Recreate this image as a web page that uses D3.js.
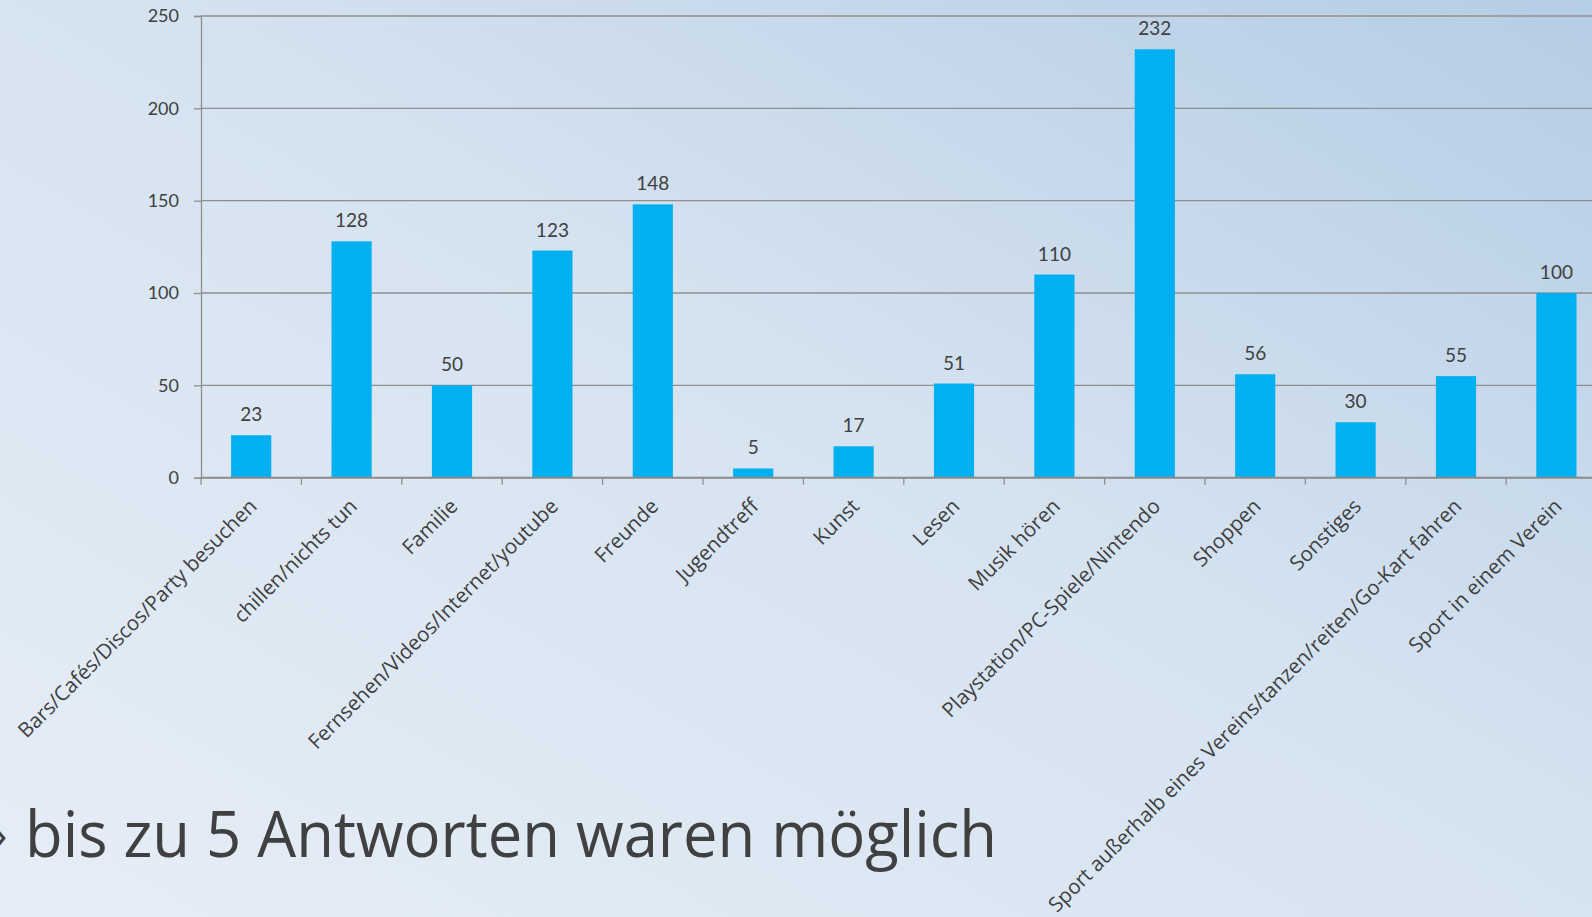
<!DOCTYPE html>
<html>
<head>
	<meta charset="utf-8">
	<title>Freizeit</title>
	<script src="https://d3js.org/d3.v7.min.js"></script>
	<style>
		html, body {
			margin: 0;
			height: 100%;
			overflow: hidden;
		}
		text {
			fill: #404040;
		}
	</style>
</head>
<body>
	<svg id="svg"></svg>
	<script>
		const categories = [
			"Bars/Cafés/Discos/Party besuchen",
			"chillen/nichts tun",
			"Familie",
			"Fernsehen/Videos/Internet/youtube",
			"Freunde",
			"Jugendtreff",
			"Kunst",
			"Lesen",
			"Musik hören",
			"Playstation/PC-Spiele/Nintendo",
			"Shoppen",
			"Sonstiges",
			"Sport außerhalb eines Vereins/tanzen/reiten/Go-Kart fahren",
			"Sport in einem Verein"
		];
		const values = [23, 128, 50, 123, 148, 5, 17, 51, 110, 232, 56, 30, 55, 100];
		const yTicks = [0, 50, 100, 150, 200, 250];
		const footnote = "bis zu 5 Antworten waren möglich";

		const width = 1592;
		const height = 917;
		const plot = { left: 201, top: 16, bottom: 477.7, step: 100.4 };

		const svg = d3.select("#svg")
		.attr("width", width)
		.attr("height", height);

		// background
		const defs = svg.append("defs");
		const grad = defs.append("linearGradient")
		.attr("id", "bg")
		.attr("x1", "100%").attr("y1", "0%")
		.attr("x2", "0%").attr("y2", "100%");
		grad.append("stop").attr("offset", "0%").attr("stop-color", "#b5cde5");
		grad.append("stop").attr("offset", "45%").attr("stop-color", "#d5e2f0");
		grad.append("stop").attr("offset", "100%").attr("stop-color", "#e6eef7");
		svg.append("rect")
		.attr("width", width)
		.attr("height", height)
		.attr("fill", "url(#bg)");

		const x = d3.scaleBand()
		.domain(categories)
		.range([plot.left, plot.left + plot.step * categories.length])
		.paddingInner(0.6)
		.paddingOuter(0.3);

		const y = d3.scaleLinear()
		.domain([0, 250])
		.range([plot.bottom, plot.top]);

		// gridlines
		svg.append("g")
		.selectAll("line")
		.data(yTicks.slice(1))
		.enter()
		.append("line")
		.attr("x1", plot.left)
		.attr("x2", width)
		.attr("y1", d => y(d))
		.attr("y2", d => y(d))
		.attr("stroke", "#8f8f8f")
		.attr("stroke-width", 1.3);

		// y axis
		const yAxis = svg.append("g")
		.attr("transform", `translate(${plot.left},0)`)
		.call(d3.axisLeft(y).tickValues(yTicks).tickSize(7).tickPadding(15));
		yAxis.select(".domain").attr("stroke", "#8f8f8f").attr("stroke-width", 1.3);
		yAxis.selectAll(".tick line").attr("stroke", "#8f8f8f").attr("stroke-width", 1.3);
		yAxis.selectAll(".tick text")
		.attr("font-family", "Lato, 'Open Sans', sans-serif")
		.attr("font-size", 18)
		.attr("fill", "#404040");

		// bars
		svg.append("g")
		.selectAll("rect")
		.data(values)
		.enter()
		.append("rect")
		.attr("x", (d, i) => x(categories[i]))
		.attr("y", d => y(d))
		.attr("width", x.bandwidth())
		.attr("height", d => y(0) - y(d))
		.attr("fill", "#00b0f0");

		// value labels
		svg.append("g")
		.selectAll("text")
		.data(values)
		.enter()
		.append("text")
		.attr("x", (d, i) => x(categories[i]) + x.bandwidth() / 2)
		.attr("y", d => y(d) - 14)
		.attr("text-anchor", "middle")
		.attr("font-family", "Lato, 'Open Sans', sans-serif")
		.attr("font-size", 19)
		.text(d => d);

		// x axis line + boundary ticks
		const boundary = (c) => x(c) - x.paddingOuter() * x.step();
		svg.append("line")
		.attr("x1", plot.left)
		.attr("x2", width)
		.attr("y1", y(0))
		.attr("y2", y(0))
		.attr("stroke", "#8a8a8a")
		.attr("stroke-width", 2);
		svg.append("g")
		.selectAll("line")
		.data(categories)
		.enter()
		.append("line")
		.attr("x1", d => boundary(d))
		.attr("x2", d => boundary(d))
		.attr("y1", y(0))
		.attr("y2", y(0) + 7)
		.attr("stroke", "#8f8f8f")
		.attr("stroke-width", 1.3);

		// category labels
		svg.append("g")
		.selectAll("text")
		.data(categories)
		.enter()
		.append("text")
		.attr("transform", d => `translate(${x(d) + x.bandwidth() / 2 - 4},${y(0) + 19}) rotate(-45)`)
		.attr("text-anchor", "end")
		.attr("dy", "0.75em")
		.attr("font-family", "'Open Sans', sans-serif")
		.attr("font-size", 20.5)
		.text(d => d);

		// footnote
		svg.append("text")
		.attr("x", -6)
		.attr("y", 850)
		.attr("font-family", "'Open Sans', sans-serif")
		.attr("font-size", 44)
		.text("›");
		svg.append("text")
		.attr("x", 25)
		.attr("y", 857)
		.attr("font-family", "'Open Sans', sans-serif")
		.attr("font-size", 64)
		.attr("textLength", 972)
		.attr("lengthAdjust", "spacingAndGlyphs")
		.text(footnote);
	</script>
</body>
</html>
